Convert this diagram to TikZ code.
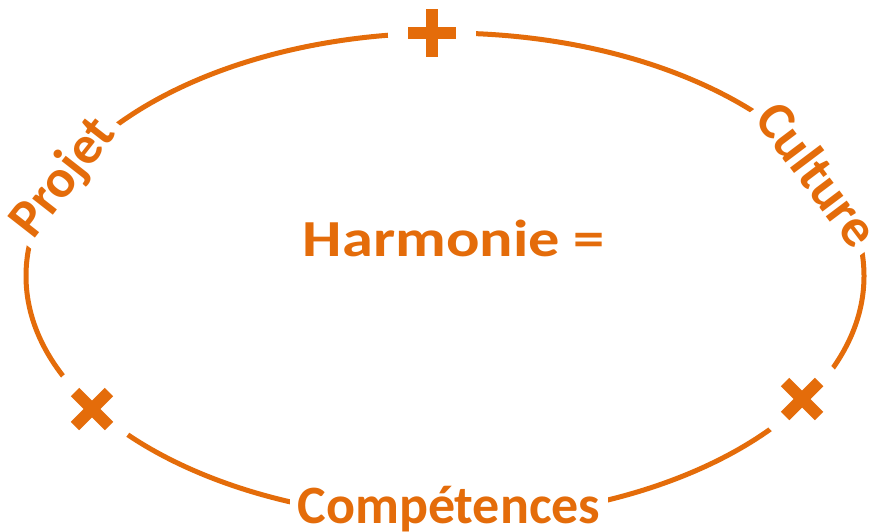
\documentclass[tikz,border=0pt]{standalone}
\usepackage{fontspec}
\setmainfont{Carlito}
\usetikzlibrary{positioning}
\definecolor{harmorange}{HTML}{E46C0A}

\begin{document}
\begin{tikzpicture}[x=1pt, y=-1pt, line width=5pt, harmorange,
    wordbox/.style={fill=white, text=harmorange, inner sep=8pt,
      font=\fontsize{54}{54}\selectfont\bfseries},
    gapmark/.style={circle, fill=white, minimum size=88pt, inner sep=0pt},
    markline/.style={line width=12pt}]
  \useasboundingbox (0,0) rectangle (875,532);

  % the ring
  \draw (445,276) ellipse [x radius=419, y radius=243];

  % words on the ring
  \node[wordbox, rotate=52] (projet) at (64,178) {Projet};
  \node[wordbox, rotate=-53] (culture) at (818,174) {Culture};
  \node[wordbox, anchor=base] (competences) at (449,523) {Compétences};
  \node[wordbox, anchor=base, fill=none, xscale=1.2,
    font=\fontsize{52}{52}\selectfont\bfseries] (harmonie) at (454,256) {Harmonie =};

  % signs
  \node[gapmark] (plus) at (432,33) {};
  \node[gapmark] (crossleft) at (92,409) {};
  \node[gapmark] (crossright) at (802,399) {};
  \draw[markline] ([xshift=-24pt]plus.center) -- ([xshift=24pt]plus.center);
  \draw[markline] ([yshift=-24pt]plus.center) -- ([yshift=24pt]plus.center);
  \draw[markline] ([shift={(-17pt,-17pt)}]crossleft.center) -- ([shift={(17pt,17pt)}]crossleft.center);
  \draw[markline] ([shift={(-17pt,17pt)}]crossleft.center) -- ([shift={(17pt,-17pt)}]crossleft.center);
  \draw[markline] ([shift={(-17pt,-17pt)}]crossright.center) -- ([shift={(17pt,17pt)}]crossright.center);
  \draw[markline] ([shift={(-17pt,17pt)}]crossright.center) -- ([shift={(17pt,-17pt)}]crossright.center);
\end{tikzpicture}
\end{document}
